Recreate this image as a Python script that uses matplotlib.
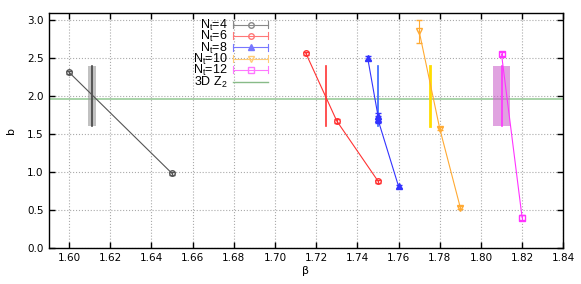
import matplotlib
matplotlib.use('Agg')
import matplotlib.pyplot as plt
from matplotlib.patches import Rectangle
from matplotlib.lines import Line2D
from matplotlib.legend_handler import HandlerBase

plt.rcParams['mathtext.fontset'] = 'custom'
plt.rcParams['mathtext.rm'] = 'Liberation Sans'
plt.rcParams['mathtext.it'] = 'Liberation Sans:italic'

# data
beta4 = [1.60, 1.65]
b4 = [2.31, 0.98]
err4 = [0.02, 0.02]

beta6 = [1.715, 1.73, 1.75]
b6 = [2.56, 1.67, 0.88]
err6 = [0.02, 0.02, 0.02]

beta8 = [1.745, 1.75, 1.75, 1.76]
b8 = [2.50, 1.74, 1.69, 0.81]
err8 = [0.03, 0.04, 0.05, 0.02]

beta10 = [1.77, 1.78, 1.79]
b10 = [2.85, 1.57, 0.53]
err10 = [0.15, 0.02, 0.02]

beta12 = [1.81, 1.82]
b12 = [2.55, 0.40]
err12 = [0.03, 0.03]

z2_b = 1.96

# critical couplings (centre, half-width) and b range of the vertical bands
crit_beta = [1.611, 1.725, 1.75, 1.7755, 1.81]
crit_width = [0.002, 0.0003, 0.0003, 0.0006, 0.0039]
crit_lo = 1.6
crit_hi = 2.4

colors = ['#555555', '#ff3333', '#3333ff', '#ffaa33', '#ff33ff']
leg_colors = ['#888888', '#ff7777', '#7777ff', '#ffcc77', '#ff77ff']
band_colors = ['#999999', '#ff3333', '#3366ff', '#ffdd00', '#cc66cc']
line_colors = ['#444444', '#ff3333', '#3366ff', '#ffdd00', '#ff33ff']
markers = ['o', 'o', '^', 'v', 's']
fills = ['none', 'none', 'full', 'none', 'none']
labels = [r'N$_\mathrm{t}$=4', r'N$_\mathrm{t}$=6', r'N$_\mathrm{t}$=8',
          r'N$_\mathrm{t}$=10', r'N$_\mathrm{t}$=12']


class GnuplotKey(HandlerBase):
    # horizontal sample with end caps and the marker in the middle
    def create_artists(self, legend, orig, xdescent, ydescent, width, height,
                       fontsize, trans):
        col, mk, fill = orig
        y = height / 2 - ydescent
        x0, x1 = -xdescent, width - xdescent
        arts = [Line2D([x0, x1], [y, y], color=col, lw=0.8, transform=trans)]
        for xe in (x0, x1):
            arts.append(Line2D([xe, xe], [y - 2.5, y + 2.5], color=col, lw=0.8,
                               transform=trans))
        mfc = col if fill == 'full' else 'none'
        arts.append(Line2D([(x0 + x1) / 2], [y], marker=mk, ms=4, mfc=mfc,
                           mec=col, lw=0, transform=trans))
        return arts


fig = plt.figure(figsize=(5.81, 2.84), dpi=100)
ax = fig.add_axes([0.0835, 0.127, 0.886, 0.827])

series = [(beta4, b4, err4), (beta6, b6, err6), (beta8, b8, err8),
          (beta10, b10, err10), (beta12, b12, err12)]

for i, (x, y, e) in enumerate(series):
    mfc = colors[i] if fills[i] == 'full' else 'none'
    ax.errorbar(x, y, yerr=e, color=colors[i], marker=markers[i], ms=4,
                mfc=mfc, mec=colors[i], lw=0.8, elinewidth=0.8, capsize=2,
                zorder=3)

for i, xc in enumerate(crit_beta):
    w = crit_width[i]
    if w > 0.001:
        ax.add_patch(Rectangle((xc - w, crit_lo), 2 * w, crit_hi - crit_lo,
                               facecolor=band_colors[i], alpha=0.6, lw=0, zorder=2))
        ax.plot([xc, xc], [crit_lo, crit_hi], color=line_colors[i], lw=1.2, zorder=2)
    else:
        lw = 2.0 if i == 3 else 1.2
        ax.plot([xc, xc], [crit_lo, crit_hi], color=line_colors[i], lw=lw, zorder=2)

hz = ax.axhline(z2_b, color='#99cc99', lw=1.2, zorder=1)

ax.set_xlim(1.59, 1.84)
ax.set_ylim(0, 3.09)
ax.set_xticks([1.60 + 0.02 * k for k in range(13)])
ax.set_yticks([0.5 * k for k in range(7)])
ax.xaxis.set_major_formatter(matplotlib.ticker.FormatStrFormatter('%.2f'))
ax.yaxis.set_major_formatter(matplotlib.ticker.FormatStrFormatter('%.1f'))
ax.tick_params(direction='in', top=True, right=True, labelsize=7.5, length=4, width=1)
ax.grid(True, color='#aaaaaa', ls=':', lw=0.8)
ax.set_xlabel('β', fontsize=8, labelpad=2)
ax.set_ylabel('b', fontsize=8, labelpad=8)
for s in ax.spines.values():
    s.set_linewidth(1.0)

keys = [(leg_colors[i], markers[i], fills[i]) for i in range(5)]
z2_key = Line2D([], [], color='#88bb88', lw=1.0)
leg = ax.legend(keys + [z2_key], labels + [r'3D Z$_2$'],
                handler_map={tuple: GnuplotKey()},
                loc='upper right', bbox_to_anchor=(268 / 581, 1 - 18 / 284),
                bbox_transform=fig.transFigure, borderaxespad=0,
                markerfirst=False, frameon=False,
                prop={'family': 'Liberation Sans', 'size': 9},
                handlelength=2.8, labelspacing=-0.3, borderpad=0.0,
                handletextpad=0.45, handleheight=0.5)
vp = leg._legend_box.get_children()[1]
for col in vp.get_children():
    col.align = 'right'

fig.savefig('out.png', dpi=100)
